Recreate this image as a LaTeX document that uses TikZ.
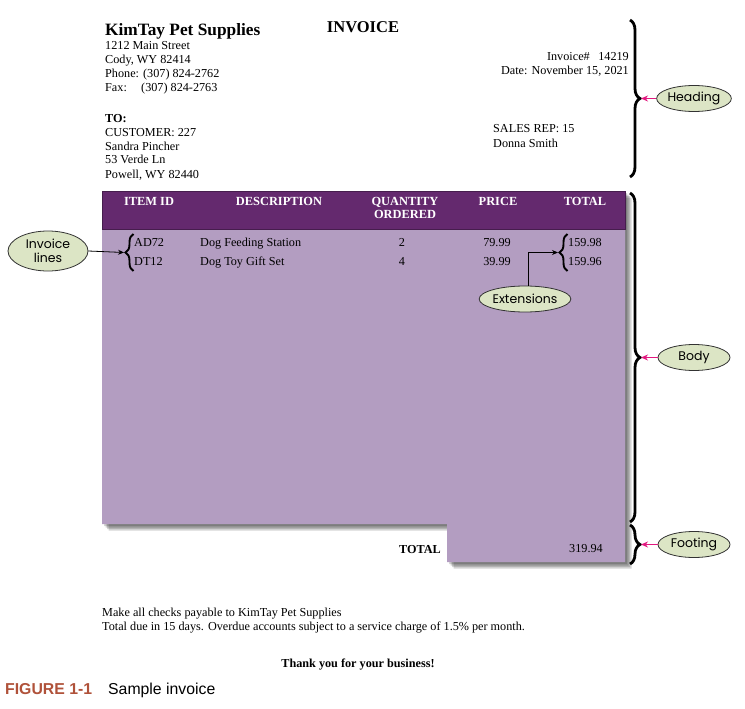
\documentclass[tikz,border=0pt]{standalone}
\usepackage{fontspec}
\setmainfont{Liberation Serif}
\newfontfamily\capfont{Liberation Sans}
\newfontfamily\ellfont{Poppins}
\usetikzlibrary{decorations.pathreplacing,arrows.meta,shapes.geometric}
\definecolor{hdrc}{HTML}{64296E}
\definecolor{bodyc}{HTML}{B39DC1}
\definecolor{ellc}{HTML}{DCE5C5}
\definecolor{magc}{HTML}{E2187F}
\definecolor{figc}{HTML}{B0523A}
\tikzset{
  txt/.style={font=\fontsize{12.2}{14}\selectfont, inner sep=0pt, anchor=base west},
  txtr/.style={font=\fontsize{12.2}{14}\selectfont, inner sep=0pt, anchor=base east},
  txtc/.style={font=\fontsize{12.2}{14}\selectfont, inner sep=0pt, anchor=base},
  hd/.style={font=\fontsize{12.4}{14}\selectfont\bfseries, text=white, inner sep=0pt, anchor=base},
  lbl/.style={ellipse, draw=black!80, fill=ellc, line width=0.8pt, inner sep=0pt,
     font=\ellfont\fontsize{12.5}{14}\selectfont, align=center},
  bigbrace/.style={decorate, decoration={brace, amplitude=10pt}, line width=2.8pt},
  smallbrace/.style={decorate, decoration={brace, amplitude=8pt}, line width=1.9pt},
  magarrow/.style={-{Stealth[length=7pt,width=6pt]}, magc, line width=1.1pt},
  blkarrow/.style={-{Stealth[length=6pt,width=5pt]}, black, line width=0.8pt}
}
\begin{document}
\begin{tikzpicture}[x=1pt,y=-1pt]
\useasboundingbox (0,0) rectangle (745,709);
\fill[white] (0,0) rectangle (745,709);
% shadow
\foreach \d in {2,3.5,5,6.5}
  \fill[black,opacity=0.16,shift={(\d,\d)}] (102,191) -- (625,191) -- (625,562) -- (447,562) -- (447,524) -- (102,524) -- cycle;
% body
\fill[bodyc] (102,229) -- (625,229) -- (625,562) -- (447,562) -- (447,524) -- (102,524) -- cycle;
\fill[hdrc] (102,191) rectangle (625,229);
\draw[hdrc!70!black, line width=0.6pt] (102,191) rectangle (625,229);
% heading text
\node[txt, font=\fontsize{17.3}{19}\selectfont\bfseries] (company) at (105,36) {KimTay Pet Supplies};
\node[txt] (addr1) at (105,50) {1212 Main Street};
\node[txt] (addr2) at (105,63.7) {Cody, WY 82414};
\node[txt] (phone) at (105,77.4) {Phone: (307) 824-2762};
\node[txt] (faxl) at (105,91.1) {Fax:};
\node[txt] (faxn) at (141,91.1) {(307) 824-2763};
\node[txtc, font=\fontsize{16.5}{18}\selectfont\bfseries] (title) at (363,33) {INVOICE};
\node[txtr] (invno) at (629,61) {Invoice\#\hspace{0.7em}14219};
\node[txtr] (date) at (629,75) {Date: November 15, 2021};
\node[txt, font=\fontsize{12.2}{14}\selectfont\bfseries] (to) at (105,122) {TO:};
\node[txt] (cust) at (105,136) {CUSTOMER: 227};
\node[txt] (cname) at (105,150) {Sandra Pincher};
\node[txt] (cstreet) at (105,164) {53 Verde Ln};
\node[txt] (ccity) at (105,178) {Powell, WY 82440};
\node[txt] (rep) at (493,132) {SALES REP: 15};
\node[txt] (repname) at (493,147) {Donna Smith};
% column headers
\node[hd] (hid) at (149,205) {ITEM ID};
\node[hd] (hdesc) at (279,205) {DESCRIPTION};
\node[hd] (hqty1) at (405,205) {QUANTITY};
\node[hd] (hqty2) at (405,218.5) {ORDERED};
\node[hd] (hprice) at (498,205) {PRICE};
\node[hd] (htotal) at (585,205) {TOTAL};
% rows
\node[txt] (id1) at (134,246) {AD72};
\node[txt] (id2) at (134,265) {DT12};
\node[txt] (desc1) at (200,246) {Dog Feeding Station};
\node[txt] (desc2) at (200,265) {Dog Toy Gift Set};
\node[txtc] (qty1) at (402,246) {2};
\node[txtc] (qty2) at (402,265) {4};
\node[txtc] (pr1) at (497,246) {79.99};
\node[txtc] (pr2) at (497,265) {39.99};
\node[txt] (tot1) at (568,246) {159.98};
\node[txt] (tot2) at (568,265) {159.96};
% footing
\node[txtr, font=\fontsize{12.2}{14}\selectfont\bfseries] (totlbl) at (441,553) {TOTAL};
\node[txt] (totval) at (569,552) {319.94};
% footer
\node[txt] (f1) at (102,616) {Make all checks payable to KimTay Pet Supplies};
\node[txt] (f2) at (102,630) {Total due in 15 days. Overdue accounts subject to a service charge of 1.5\% per month.};
\node[txtc, font=\fontsize{12.2}{14}\selectfont\bfseries] (thanks) at (358,667) {Thank you for your business!};
% caption
\node[inner sep=0pt, anchor=base west, font=\capfont\fontsize{15.8}{17}\selectfont\bfseries, text=figc] (fig) at (5,694) {FIGURE 1-1};
\node[inner sep=0pt, anchor=base west, font=\capfont\fontsize{15.8}{17}\selectfont] (figt) at (108,694) {Sample invoice};
% braces
\coordinate (hbT) at (630,20);
\coordinate (hbB) at (630,177);
\coordinate (hbtip) at (641,98.5);
\coordinate (bbT) at (630,193);
\coordinate (bbB) at (630,522);
\coordinate (bbtip) at (641,357.5);
\coordinate (fbT) at (630,525);
\coordinate (fbB) at (630,564);
\coordinate (fbtip) at (641,544.5);
\draw[bigbrace] (hbT) -- (hbB);
\draw[bigbrace] (bbT) -- (bbB);
\draw[bigbrace] (fbT) -- (fbB);
\node[lbl, minimum width=72pt, minimum height=26pt] (heading) at (694,98.5) {Heading};
\node[lbl, minimum width=72pt, minimum height=26pt] (body) at (694,357.5) {Body};
\node[lbl, minimum width=72pt, minimum height=26pt] (footing) at (694,544.5) {Footing};
\draw[magarrow] (heading.west) -- (hbtip);
\draw[magarrow] (body.west) -- (bbtip);
\draw[magarrow] (footing.west) -- (fbtip);
% small braces
\coordinate (ibB) at (133.5,271);
\coordinate (ibT) at (133.5,234);
\coordinate (ibtip) at (124,252.5);
\coordinate (ebB) at (567.5,271);
\coordinate (ebT) at (567.5,234);
\coordinate (ebtip) at (558,252.5);
\draw[smallbrace] (ibB) -- (ibT);
\draw[smallbrace] (ebB) -- (ebT);
\node[lbl, minimum width=80pt, minimum height=40pt] (invlines) at (48,251) {Invoice\\lines};
\node[lbl, minimum width=82pt, minimum height=26pt] (ext) at (525,299) {Extensions};
\draw[blkarrow] (invlines.east) -- (ibtip);
\draw[blkarrow] ([xshift=3pt]ext.north) |- (ebtip);
\end{tikzpicture}
\end{document}
